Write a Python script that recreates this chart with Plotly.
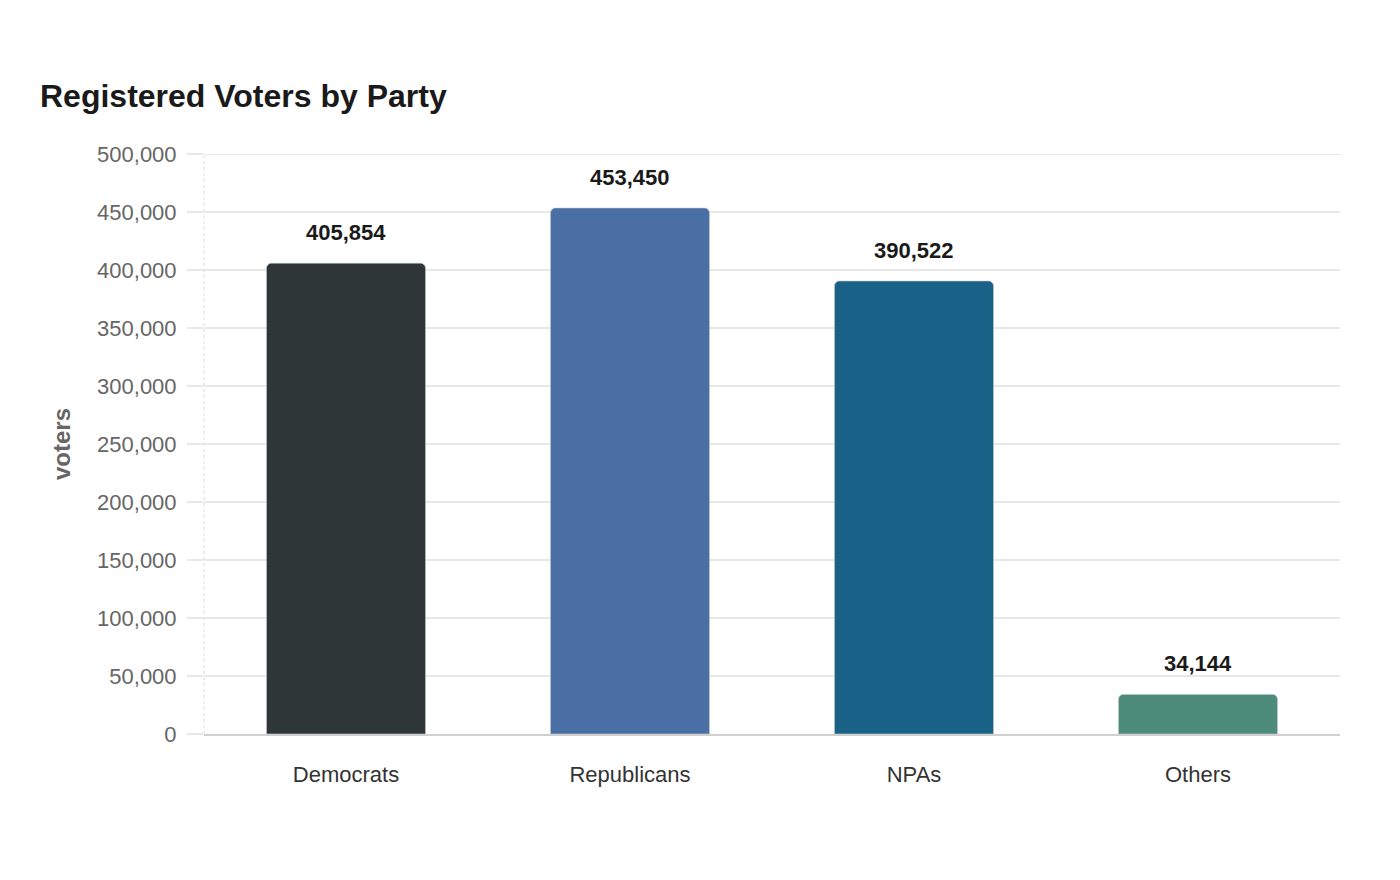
import plotly.graph_objects as go

categories = ["Democrats", "Republicans", "NPAs", "Others"]
voters = [405854, 453450, 390522, 34144]
colors = ["#2e3638", "#4a6fa5", "#1a6187", "#4e8c7a"]
y_ticks = [0, 50000, 100000, 150000, 200000, 250000, 300000, 350000, 400000, 450000, 500000]

FONT = "Liberation Sans, Arial, sans-serif"

fig = go.Figure()
fig.add_trace(go.Bar(
    x=categories,
    y=voters,
    width=0.56,
    marker=dict(color=colors, cornerradius=5, line=dict(width=1, color="rgba(200,200,200,0.6)")),
    hoverinfo="x+y",
    showlegend=False,
))

for c, v in zip(categories, voters):
    fig.add_annotation(
        x=c, y=v, text=f"<b>{v:,}</b>", showarrow=False,
        yanchor="bottom", yshift=16,
        font=dict(family=FONT, size=22, color="#1a1a1a"),
    )

fig.update_layout(
    width=1400, height=880,
    paper_bgcolor="white", plot_bgcolor="white",
    margin=dict(l=204, r=60, t=154, b=146),
    title=dict(
        text="<b>Registered Voters by Party</b>",
        x=40 / 1400, xanchor="left", xref="container",
        y=1 - 96 / 880, yanchor="middle", yref="container",
        font=dict(family=FONT, size=32, color="#1a1a1a"),
    ),
    font=dict(family=FONT),
    bargap=0.44,
)

fig.update_xaxes(
    showgrid=False,
    showline=True, linecolor="#d0d0d0", linewidth=2,
    ticks="", tickfont=dict(family=FONT, size=22, color="#333333"),
    ticklabelstandoff=20,
)
fig.update_yaxes(
    range=[0, 500000],
    tickvals=y_ticks,
    ticktext=[f"{t:,}" for t in y_ticks],
    tickfont=dict(family=FONT, size=22, color="#666666"),
    showgrid=True, gridcolor="#e8e8e8", gridwidth=2,
    ticks="outside", ticklen=16, tickcolor="#e8e8e8", tickwidth=2,
    ticklabelstandoff=6,
    zeroline=False,
    showline=False,
    title=dict(text="<b>voters</b>", font=dict(family=FONT, size=24, color="#666666"), standoff=19),
)

# top gridline (at the range edge)
fig.add_shape(type="line", xref="paper", yref="y", x0=0, x1=1, y0=500000, y1=500000,
              line=dict(color="#e8e8e8", width=2), layer="below")
# dotted y-axis line
fig.add_shape(type="line", xref="paper", yref="paper", x0=0, x1=0, y0=0, y1=1,
              line=dict(color="#d8d8d8", width=1, dash="dot"))

fig.write_html("out.html")
